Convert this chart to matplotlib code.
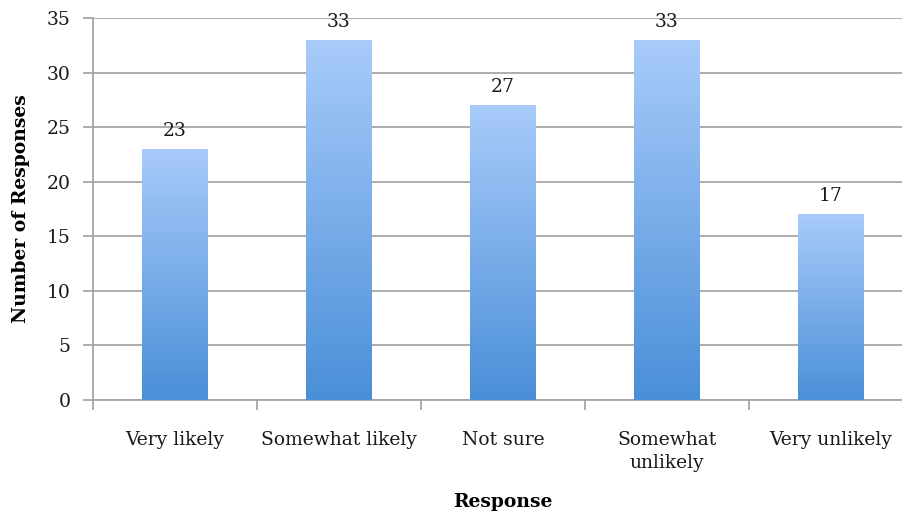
import numpy as np
import matplotlib
matplotlib.use("Agg")
from matplotlib import pyplot as plt
from matplotlib.colors import LinearSegmentedColormap

responses = ["Very likely", "Somewhat likely", "Not sure", "Somewhat\nunlikely", "Very unlikely"]
counts = [23, 33, 27, 33, 17]
yticks = [0, 5, 10, 15, 20, 25, 30, 35]

plt.rcParams['font.family'] = ['DejaVu Serif']

fig = plt.figure(figsize=(9.03, 5.15), dpi=100)
# axes run past the right edge a little, the last gridline segment is cut off
ax = fig.add_axes([93/903, 115/515, 820/903, 382/515])

grad = LinearSegmentedColormap.from_list("bluegrad", ["#4a8fd8", "#a8cbfa"])
gray = "#a6a6a6"
fs = 13.5

x = np.arange(len(counts))
width = 0.4
bars = ax.bar(x, counts, width, color="none", edgecolor="none", zorder=3)
for b, v in zip(bars, counts):
    img = np.linspace(0, 1, 256).reshape(-1, 1)
    im = ax.imshow(img, cmap=grad, origin="lower", aspect="auto", zorder=3,
                   extent=[b.get_x(), b.get_x() + b.get_width(), 0, v])
    im.set_clip_path(b)
    ax.text(b.get_x() + b.get_width()/2, v + 0.85, str(v), ha="center", va="bottom",
            fontsize=fs, color="#1a1a1a")

ax.set_xlim(-0.5, len(counts) - 0.5)
ax.set_ylim(0, 35)
ax.set_yticks(yticks)
ax.yaxis.grid(True, color=gray, linewidth=1.3, zorder=0)
ax.set_axisbelow(True)

ax.set_xticks(x)
ax.set_xticklabels(responses, fontsize=fs, color="#1a1a1a", linespacing=1.4)
ax.set_xticks(np.arange(len(counts) + 1) - 0.5, minor=True)
ax.tick_params(axis="x", which="major", length=0, pad=22)
ax.tick_params(axis="x", which="minor", length=7, color=gray, width=1.3)
ax.tick_params(axis="y", length=7, color=gray, width=1.3, labelsize=fs,
               labelcolor="#1a1a1a", pad=9)

for s in ["top", "right"]:
    ax.spines[s].set_visible(False)
for s in ["left", "bottom"]:
    ax.spines[s].set_color(gray)
    ax.spines[s].set_linewidth(1.3)

ax.set_xlabel("Response", fontsize=fs, fontweight="bold", labelpad=15)
ax.set_ylabel("Number of Responses", fontsize=fs, fontweight="bold", labelpad=12)

fig.savefig("out.png", dpi=100)
